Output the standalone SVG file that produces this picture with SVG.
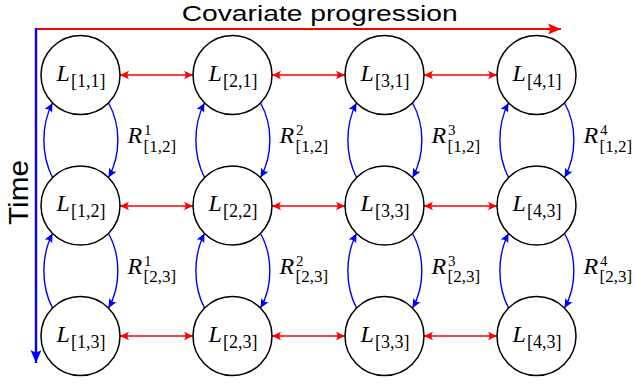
<svg xmlns="http://www.w3.org/2000/svg" width="635" height="385" viewBox="0 0 635 385">
<style>
.node{fill:#fff;stroke:#000;stroke-width:1.5}
.L{font-family:"Liberation Serif",serif;font-style:italic;font-size:24px;fill:#000}
.sub{font-family:"Liberation Serif",serif;font-style:normal;font-size:18px;fill:#000}
.R{font-family:"Liberation Serif",serif;font-style:italic;font-size:24px;fill:#000}
.rsup{font-family:"Liberation Serif",serif;font-size:15px;fill:#000}
.rsub{font-family:"Liberation Serif",serif;font-size:17px;fill:#000}
.h{fill:none;stroke:#f00;stroke-width:1.5;marker-start:url(#ra);marker-end:url(#ra)}
.v{fill:none;stroke:#00f;stroke-width:1.4;marker-end:url(#ba)}
.title{font-family:"Liberation Sans",Arial,sans-serif;font-size:22px;fill:#000}
</style>
<defs>
<marker id="ra" viewBox="-10 -5 10 10" refX="0" refY="0" markerWidth="10" markerHeight="10" markerUnits="userSpaceOnUse" orient="auto-start-reverse">
<path d="M0,0 L-9,-4.2 Q-6,0 -9,4.2 Z" fill="#f00"/>
</marker>
<marker id="ba" viewBox="-10 -5 10 10" refX="0" refY="0" markerWidth="10" markerHeight="10" markerUnits="userSpaceOnUse" orient="auto">
<path d="M0,0 L-9,-4.2 Q-6,0 -9,4.2 Z" fill="#00f"/>
</marker>
<marker id="rbig" viewBox="-14 -7 14 14" refX="0" refY="0" markerWidth="14" markerHeight="14" markerUnits="userSpaceOnUse" orient="auto">
<path d="M0,0 L-13,-5.5 Q-9,0 -13,5.5 Z" fill="#f00"/>
</marker>
<marker id="bbig" viewBox="-14 -7 14 14" refX="0" refY="0" markerWidth="14" markerHeight="14" markerUnits="userSpaceOnUse" orient="auto">
<path d="M0,0 L-13,-5.5 Q-9,0 -13,5.5 Z" fill="#00f"/>
</marker>
</defs>
<g id="axes">
<line x1="35.5" y1="29" x2="561" y2="29" stroke="#f00" stroke-width="2.2" marker-end="url(#rbig)"/>
<line x1="36" y1="28" x2="36" y2="363" stroke="#00f" stroke-width="2.4" marker-end="url(#bbig)"/>
<text class="title" x="181.7" y="20.5" textLength="276" lengthAdjust="spacingAndGlyphs">Covariate progression</text>
<text class="title" transform="translate(28,192.5) rotate(-90)" x="0" y="0" text-anchor="middle" style="font-size:27px" textLength="65" lengthAdjust="spacingAndGlyphs">Time</text>
</g>
<g id="connectors">
<line class="h" x1="120" y1="75" x2="193" y2="75"/>
<line class="h" x1="272" y1="75" x2="345" y2="75"/>
<line class="h" x1="424" y1="75" x2="497" y2="75"/>
<line class="h" x1="120" y1="206" x2="193" y2="206"/>
<line class="h" x1="272" y1="206" x2="345" y2="206"/>
<line class="h" x1="424" y1="206" x2="497" y2="206"/>
<line class="h" x1="120" y1="336" x2="193" y2="336"/>
<line class="h" x1="272" y1="336" x2="345" y2="336"/>
<line class="h" x1="424" y1="336" x2="497" y2="336"/>
<!-- column 1 -->
<path class="v" d="M52.5,177.5 C41,155 41,125 52.5,103"/>
<path class="v" d="M108.5,103 C121,125 121,155 108.5,177.5"/>
<path class="v" d="M52.5,308 C41,286 41,256 52.5,233.5"/>
<path class="v" d="M108.5,233.5 C121,256 121,286 108.5,308"/>
<!-- column 2 -->
<path class="v" d="M204.5,177.5 C193,155 193,125 204.5,103"/>
<path class="v" d="M260.5,103 C273,125 273,155 260.5,177.5"/>
<path class="v" d="M204.5,308 C193,286 193,256 204.5,233.5"/>
<path class="v" d="M260.5,233.5 C273,256 273,286 260.5,308"/>
<!-- column 3 -->
<path class="v" d="M356.5,177.5 C345,155 345,125 356.5,103"/>
<path class="v" d="M412.5,103 C425,125 425,155 412.5,177.5"/>
<path class="v" d="M356.5,308 C345,286 345,256 356.5,233.5"/>
<path class="v" d="M412.5,233.5 C425,256 425,286 412.5,308"/>
<!-- column 4 -->
<path class="v" d="M508.5,177.5 C497,155 497,125 508.5,103"/>
<path class="v" d="M564.5,103 C577,125 577,155 564.5,177.5"/>
<path class="v" d="M508.5,308 C497,286 497,256 508.5,233.5"/>
<path class="v" d="M564.5,233.5 C577,256 577,286 564.5,308"/>
</g>
<g id="edge-labels">
<text class="R" x="127.5" y="143">R</text><text class="rsup" x="144" y="135">1</text><text class="rsub" x="143.5" y="151.5">[1,2]</text>
<text class="R" x="279.5" y="143">R</text><text class="rsup" x="296" y="135">2</text><text class="rsub" x="295.5" y="151.5">[1,2]</text>
<text class="R" x="431.5" y="143">R</text><text class="rsup" x="448" y="135">3</text><text class="rsub" x="447.5" y="151.5">[1,2]</text>
<text class="R" x="583.5" y="143">R</text><text class="rsup" x="600" y="135">4</text><text class="rsub" x="599.5" y="151.5">[1,2]</text>
<text class="R" x="127.5" y="273.5">R</text><text class="rsup" x="144" y="265.5">1</text><text class="rsub" x="143.5" y="282">[2,3]</text>
<text class="R" x="279.5" y="273.5">R</text><text class="rsup" x="296" y="265.5">2</text><text class="rsub" x="295.5" y="282">[2,3]</text>
<text class="R" x="431.5" y="273.5">R</text><text class="rsup" x="448" y="265.5">3</text><text class="rsub" x="447.5" y="282">[2,3]</text>
<text class="R" x="583.5" y="273.5">R</text><text class="rsup" x="600" y="265.5">4</text><text class="rsub" x="599.5" y="282">[2,3]</text>
</g>
<g id="n11"><circle class="node" cx="80.5" cy="75" r="39.5"/><text class="L" x="56.5" y="80.5">L</text><text class="sub" x="71" y="86.5">[1,1]</text></g>
<g id="n21"><circle class="node" cx="232.5" cy="75" r="39.5"/><text class="L" x="208.5" y="80.5">L</text><text class="sub" x="223" y="86.5">[2,1]</text></g>
<g id="n31"><circle class="node" cx="384.5" cy="75" r="39.5"/><text class="L" x="360.5" y="80.5">L</text><text class="sub" x="375" y="86.5">[3,1]</text></g>
<g id="n41"><circle class="node" cx="536.5" cy="75" r="39.5"/><text class="L" x="512.5" y="80.5">L</text><text class="sub" x="527" y="86.5">[4,1]</text></g>
<g id="n12"><circle class="node" cx="80.5" cy="205.5" r="39.5"/><text class="L" x="56.5" y="211">L</text><text class="sub" x="71" y="217">[1,2]</text></g>
<g id="n22"><circle class="node" cx="232.5" cy="205.5" r="39.5"/><text class="L" x="208.5" y="211">L</text><text class="sub" x="223" y="217">[2,2]</text></g>
<g id="n32"><circle class="node" cx="384.5" cy="205.5" r="39.5"/><text class="L" x="360.5" y="211">L</text><text class="sub" x="375" y="217">[3,3]</text></g>
<g id="n42"><circle class="node" cx="536.5" cy="205.5" r="39.5"/><text class="L" x="512.5" y="211">L</text><text class="sub" x="527" y="217">[4,3]</text></g>
<g id="n13"><circle class="node" cx="80.5" cy="336" r="39.5"/><text class="L" x="56.5" y="341.5">L</text><text class="sub" x="71" y="347.5">[1,3]</text></g>
<g id="n23"><circle class="node" cx="232.5" cy="336" r="39.5"/><text class="L" x="208.5" y="341.5">L</text><text class="sub" x="223" y="347.5">[2,3]</text></g>
<g id="n33"><circle class="node" cx="384.5" cy="336" r="39.5"/><text class="L" x="360.5" y="341.5">L</text><text class="sub" x="375" y="347.5">[3,3]</text></g>
<g id="n43"><circle class="node" cx="536.5" cy="336" r="39.5"/><text class="L" x="512.5" y="341.5">L</text><text class="sub" x="527" y="347.5">[4,3]</text></g>
</svg>
